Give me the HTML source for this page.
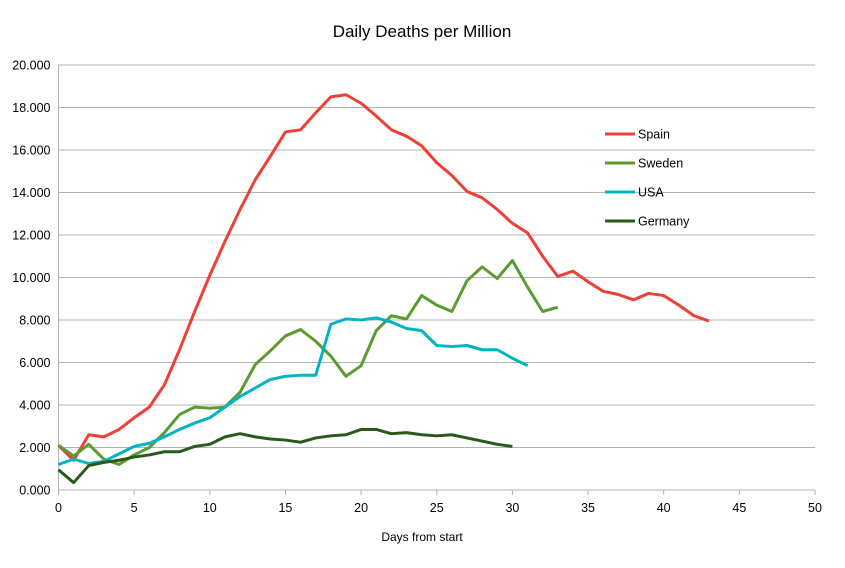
<!DOCTYPE html>
<html><head><meta charset="utf-8"><style>
body{margin:0;background:#fff;font-family:"Liberation Sans",sans-serif}
svg text{font-family:"Liberation Sans",sans-serif;fill:#000}
</style></head><body>
<svg width="845" height="563" id="chart">
<rect width="845" height="563" fill="#fff"/>
<text x="422" y="37" text-anchor="middle" font-size="17">Daily Deaths per Million</text>
<g id="grid"></g><g id="axes"></g><g id="series"></g>
<text x="422" y="541" text-anchor="middle" font-size="12">Days from start</text>
<g id="legend"></g>
</svg>
<script>
const seriesNames=["Spain","Sweden","USA","Germany"];
const seriesColors=["#ee4035","#5a9b32","#00b4c4","#2a5a1a"];
const spain=[2.1,1.4,2.6,2.5,2.85,3.4,3.9,4.95,6.6,8.4,10.1,11.7,13.2,14.6,15.7,16.85,16.95,17.75,18.5,18.6,18.2,17.6,16.95,16.65,16.2,15.4,14.8,14.05,13.75,13.2,12.55,12.1,11.0,10.05,10.3,9.8,9.35,9.2,8.95,9.25,9.15,8.7,8.2,7.95];
const sweden=[2.1,1.6,2.15,1.45,1.2,1.65,2.0,2.7,3.55,3.9,3.85,3.9,4.6,5.9,6.55,7.25,7.55,7.0,6.3,5.35,5.85,7.5,8.2,8.05,9.15,8.7,8.4,9.85,10.5,9.95,10.8,9.55,8.4,8.6];
const usa=[1.2,1.45,1.25,1.35,1.7,2.05,2.2,2.5,2.85,3.15,3.4,3.9,4.4,4.8,5.2,5.35,5.4,5.4,7.8,8.05,8.0,8.1,7.9,7.6,7.5,6.8,6.75,6.8,6.6,6.6,6.2,5.85];
const germany=[0.95,0.35,1.15,1.3,1.4,1.55,1.65,1.8,1.8,2.05,2.15,2.5,2.65,2.5,2.4,2.35,2.25,2.45,2.55,2.6,2.85,2.85,2.65,2.7,2.6,2.55,2.6,2.45,2.3,2.15,2.05];
const yTicks=[0,2,4,6,8,10,12,14,16,18,20];
const xTicks=[0,5,10,15,20,25,30,35,40,45,50];
const NS="http://www.w3.org/2000/svg";
const X0=58.5,X1=815,Y0=490,Y1=65;
function xs(v){return X0+(X1-X0)*v/50;}
function ys(v){return Y0-(Y0-Y1)*v/20;}
function mk(t,a,p){const e=document.createElementNS(NS,t);for(const k in a)e.setAttribute(k,a[k]);p.appendChild(e);return e;}
const grid=document.getElementById('grid'),axes=document.getElementById('axes'),ser=document.getElementById('series'),leg=document.getElementById('legend');
yTicks.forEach(v=>{
 const l=mk('line',{x1:X0,x2:X1,y1:ys(v),y2:ys(v),stroke:'#b3b3b3','stroke-width':1},grid);
 
 
 const t=mk('text',{x:X0-8,y:ys(v)+4.5,'text-anchor':'end','font-size':12.5},axes);
 t.textContent=v.toFixed(3);
 
 
});
mk('line',{x1:X0,x2:X0,y1:Y1,y2:Y0+5,stroke:'#b3b3b3'},grid);
xTicks.forEach(v=>{
 const l=mk('line',{x1:xs(v),x2:xs(v),y1:Y0,y2:Y0+5,stroke:'#b3b3b3'},grid);
 
 
 const t=mk('text',{x:xs(v),y:Y0+22,'text-anchor':'middle','font-size':12.5},axes);
 t.textContent=v;
 
 
});
[spain,sweden,usa,germany].forEach((d,i)=>{
 const p=mk('polyline',{points:d.map((v,j)=>xs(j)+','+ys(v)).join(' '),fill:'none',stroke:seriesColors[i],'stroke-width':3,'stroke-linejoin':'round'},ser);
 
 
 const y=134+29*i;
 const g=mk('g',{},leg);
 
 
 mk('line',{x1:605,x2:635,y1:y,y2:y,stroke:seriesColors[i],'stroke-width':3},g);
 const t=mk('text',{x:638,y:y+4.5,'font-size':12.5},g);t.textContent=seriesNames[i];
});
</script>
</body></html>
